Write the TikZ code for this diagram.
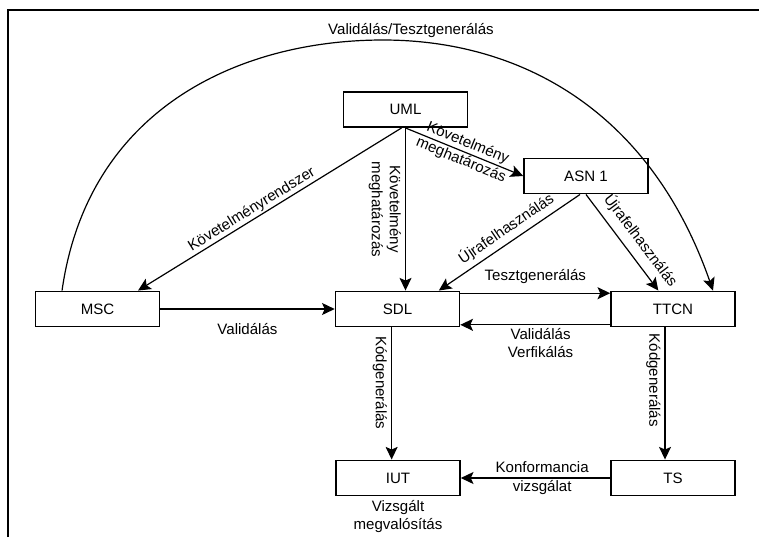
\documentclass[tikz,border=0pt]{standalone}
\usepackage{fontspec}
\setmainfont{Liberation Sans}
\usetikzlibrary{arrows.meta,positioning}
\begin{document}
\begin{tikzpicture}[x=0.75pt,y=-0.75pt,
  every node/.style={font=\fontsize{11.3}{13.5}\selectfont},
  box/.style={draw,line width=1.2pt,minimum width=93pt,minimum height=26.5pt,inner sep=0pt},
  arr/.style={line width=0.9pt,-{Stealth[length=9.5pt,width=9pt,inset=2pt]}},
  lbl/.style={align=center,inner sep=2pt}]
\useasboundingbox (0,0) rectangle (759,537);
\draw[line width=1.1pt] (8,537) -- (8,10) -- (759,10);

\node[box] (UML)  at (405.5,109.5) {UML};
\node[box] (ASN)  at (586,176)     {ASN 1};
\node[box] (MSC)  at (97.5,309)    {MSC};
\node[box] (SDL)  at (397.5,309)   {SDL};
\node[box] (TTCN) at (673,309)     {TTCN};
\node[box] (IUT)  at (398,478)     {IUT};
\node[box] (TS)   at (673,478)     {TS};
\node[lbl,below=1pt of IUT] (IUTl) {Vizsgált\\megvalósítás};

% UML -> SDL
\draw[arr] (UML.south) -- (UML.south |- SDL.north)
  node[lbl,midway,rotate=-90,anchor=north,inner sep=3pt] {Követelmény\\meghatározás};
% UML -> ASN 1
\draw[arr] (UML.south) -- (ASN.west)
  node[lbl,midway,sloped,inner sep=0pt] {Követelmény\\meghatározás};
% UML -> MSC
\draw[arr] ([xshift=-3pt]UML.south) -- ([xshift=30.4pt]MSC.north)
  node[lbl,pos=0.55,sloped,above,inner sep=1pt] {Követelményrendszer};
% MSC -> SDL
\draw[arr] (MSC.east) -- (SDL.west)
  node[lbl,midway,below=8pt] {Validálás};
% SDL -> TTCN
\draw[arr] ([yshift=-2pt]SDL.north east) -- ([yshift=-2pt]TTCN.north west)
  node[lbl,midway,above=5pt] {Tesztgenerálás};
% TTCN -> SDL
\draw[arr] ([yshift=2pt]TTCN.south west) -- ([yshift=2pt]SDL.south east)
  node[lbl,midway,below,xshift=4pt] {Validálás\\Verfikálás};
% ASN 1 -> SDL
\draw[arr] ([xshift=-4.5pt]ASN.south) -- ([xshift=31pt]SDL.north)
  node[lbl,pos=0.47,sloped,above=1.5pt] {Újrafelhasználás};
% ASN 1 -> TTCN
\draw[arr] (ASN.south) -- ([xshift=-11pt]TTCN.north)
  node[lbl,pos=0.58,sloped,above=3.5pt] {Újrafelhasználás};
% SDL -> IUT
\draw[arr] ([xshift=-4.4pt]SDL.south) -- ([xshift=-4.4pt]SDL.south |- IUT.north)
  node[lbl,pos=0.42,rotate=-90,anchor=north,inner sep=3pt] {Kódgenerálás};
% TTCN -> TS
\draw[arr] ([xshift=-6pt]TTCN.south) -- ([xshift=-6pt]TTCN.south |- TS.north)
  node[lbl,pos=0.40,rotate=-90,anchor=north,inner sep=3pt] {Kódgenerálás};
% TS -> IUT
\draw[arr] (TS.west) -- (IUT.east)
  node[lbl,midway,xshift=5pt,inner sep=0pt] {Konformancia\\[1pt]vizsgálat};
% big arc MSC -> TTCN
\draw[arr] ([xshift=-26.6pt]MSC.north) .. controls (88,108) and (240,40) .. (383,40)
  node[lbl,above,xshift=21pt,inner sep=1pt] {Validálás/Tesztgenerálás}
  .. controls (520,40) and (650,110) .. ([xshift=30pt]TTCN.north);
\end{tikzpicture}
\end{document}
